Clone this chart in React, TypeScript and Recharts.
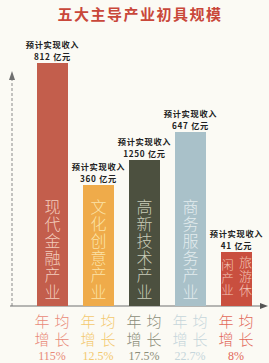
import React from "react";
import { BarChart, Bar, XAxis, YAxis, Cell, LabelList, Customized } from "recharts";

const industries = ["现代金融产业", "文化创意产业", "高新技术产业", "商务服务产业", "旅游休闲产业"];
const revenue = [812, 360, 1250, 647, 41];
const growth = ["115%", "12.5%", "17.5%", "22.7%", "8%"];
// illustrative bar heights as drawn in the infographic (not proportional to revenue)
const visualHeight = [243, 121, 146, 174, 54];

const barColors = ["#c35e4c", "#efab4a", "#4c503f", "#a9c1c9", "#c94f3f"];
const innerTextColors = ["#f3cdbd", "#fbe3a8", "#c9ccb8", "#e3ecee", "#f2c4b4"];
const growthColors = ["#e98a78", "#f3c96f", "#8b8d78", "#c6d6db", "#e2695a"];

const data = industries.map((name, i) => ({
  name,
  revenue: revenue[i],
  growth: growth[i],
  h: visualHeight[i],
}));

const TopLabel = (props: any) => {
  const { x, y, width, index } = props;
  const cx = x + width / 2;
  return (
    <g fill="#222" fontWeight={700} fontFamily="'Noto Sans CJK SC', sans-serif" textAnchor="middle">
      <text x={cx} y={y - 15} fontSize={8.2} letterSpacing={0.7}>预计实现收入</text>
      <text x={cx} y={y - 3} fontSize={8.2} letterSpacing={0.7}>{revenue[index]} 亿元</text>
    </g>
  );
};

const InnerLabel = (props: any) => {
  const { x, y, width, height, index } = props;
  const cx = x + width / 2;
  const bottom = y + height;
  const chars = industries[index].split("");
  const color = innerTextColors[index];
  if (height < 80) {
    // two vertical columns, read right to left
    const right = chars.slice(0, 3);
    const left = chars.slice(3);
    return (
      <g fontFamily="'Noto Sans CJK SC', sans-serif" fontWeight={300} fill={color} textAnchor="middle">
        {right.map((c, k) => (
          <text key={"r" + k} x={cx + 9} y={bottom - 39 + k * 14} fontSize={13}>{c}</text>
        ))}
        {left.map((c, k) => (
          <text key={"l" + k} x={cx - 9} y={bottom - 36 + k * 12.5} fontSize={12.5}>{c}</text>
        ))}
      </g>
    );
  }
  const step = 17;
  return (
    <g fontFamily="'Noto Sans CJK SC', sans-serif" fontWeight={300} fontSize={16} fill={color} textAnchor="middle">
      {chars.map((c, k) => (
        <text key={k} x={cx} y={bottom - 8 - (chars.length - 1 - k) * step}>{c}</text>
      ))}
    </g>
  );
};

const GrowthTick = (props: any) => {
  const { x, payload } = props;
  const i = payload.index;
  const color = growthColors[i];
  return (
    <g fill={color} textAnchor="middle">
      <text y={327} fontSize={15} fontFamily="'Noto Sans CJK SC', sans-serif" fontWeight={300}>
        <tspan x={x - 10}>年</tspan><tspan x={x + 10}>均</tspan>
      </text>
      <text y={345} fontSize={15} fontFamily="'Noto Sans CJK SC', sans-serif" fontWeight={300}>
        <tspan x={x - 10}>增</tspan><tspan x={x + 10}>长</tspan>
      </text>
      <text x={x} y={360} fontSize={12} fontFamily="'Liberation Serif', serif">{growth[i]}</text>
    </g>
  );
};

const Axes = () => (
  <g>
    <line x1={12} y1={306} x2={12} y2={78} stroke="#8a8a8a" strokeWidth={1} strokeDasharray="3 2" />
    <polygon points="12,71 9,80 15,80" fill="#6f6f6f" />
    <line x1={10} y1={306} x2={262} y2={306} stroke="#707070" strokeWidth={1.2} />
    <polygon points="268,306 260,303 260,309" fill="#555" />
  </g>
);

export default function App() {
  return (
    <div style={{ position: "absolute", left: 0, top: 0, width: 269, height: 363, background: "#fbfaf4" }}>
      <svg width={269} height={30} style={{ position: "absolute", left: 0, top: 0 }}>
        <text x={140} y={20} textAnchor="middle" fontSize={15} fontWeight={700} fill="#c9473a"
          letterSpacing={1.5} fontFamily="'Noto Sans CJK SC', sans-serif">五大主导产业初具规模</text>
      </svg>
      <div style={{ position: "absolute", left: 0, top: 0 }}>
        <BarChart width={269} height={363} data={data} margin={{ top: 20, right: 10, bottom: 27, left: 29 }}>
          <YAxis hide domain={[0, 286]} />
          <XAxis dataKey="name" height={30} axisLine={false} tickLine={false} interval={0} tick={<GrowthTick />} />
          <Customized component={Axes} />
          <Bar dataKey="h" barSize={31} isAnimationActive={false}>
            {data.map((d, i) => (
              <Cell key={i} fill={barColors[i]} />
            ))}
            <LabelList dataKey="revenue" content={<TopLabel />} />
            <LabelList dataKey="name" content={<InnerLabel />} />
          </Bar>
        </BarChart>
      </div>
    </div>
  );
}
